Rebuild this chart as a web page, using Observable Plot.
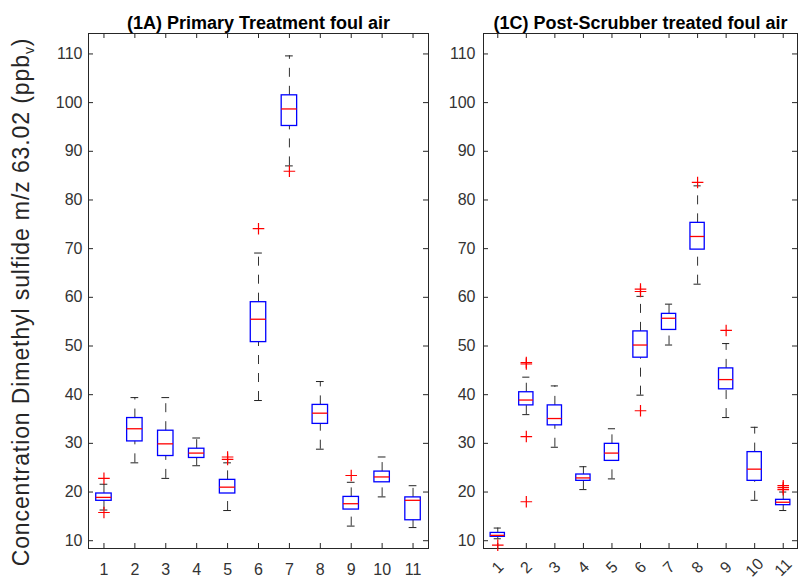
<!DOCTYPE html>
<html><head><meta charset="utf-8">
<script src="https://cdn.jsdelivr.net/npm/d3@7"></script>
<script src="https://cdn.jsdelivr.net/npm/@observablehq/plot@0.6"></script>
<style>
body{margin:0;background:#fff;}
#wrap{position:relative;width:803px;height:579px;font-family:"Liberation Sans",Arial,sans-serif;overflow:hidden;}
#left,#right{position:absolute;top:0;}
#left{left:0}
#right{left:435px}
#ylabel{position:absolute;left:23px;top:302px;transform:translate(-50%,-50%) rotate(-90deg);white-space:nowrap;font-size:23px;letter-spacing:0.9px;color:#262626;line-height:1;}
#ylabel sub{font-size:14px;}
</style></head>
<body><div id="wrap"><div id="left"></div><div id="right"></div>
<div id="ylabel">Concentration Dimethyl sulfide m/z 63.02 (ppb<sub>v</sub>)</div></div>
<script>
// Groups / tick labels
const groups = [1,2,3,4,5,6,7,8,9,10,11];
const yTicks = [10,20,30,40,50,60,70,80,90,100,110];

// (1A) Primary Treatment foul air
const primaryLow    = [16.3, 26.0, 22.8, 25.4, 16.2, 38.8, 87.0, 28.8, 13.0, 19.0, 12.7];
const primaryQ1     = [18.2, 30.4, 27.4, 27.0, 19.7, 50.8, 95.2, 34.0, 16.4, 22.0, 14.2];
const primaryMedian = [18.9, 33.0, 29.9, 28.0, 21.0, 55.5, 98.7, 36.2, 17.6, 23.1, 18.3];
const primaryQ3     = [19.7, 35.2, 32.6, 28.9, 22.5, 59.0, 101.5, 37.9, 19.0, 24.2, 18.9];
const primaryHigh   = [21.6, 39.4, 39.4, 31.1, 26.0, 69.1, 109.6, 42.7, 22.0, 27.2, 21.3];
const primaryOutliers = [[1,22.8],[1,15.8],[5,27.2],[5,26.7],[6,74.1],[7,85.9],[9,23.4]];

// (1C) Post-Scrubber treated foul air
const scrubLow    = [10.4, 35.9, 29.2, 20.5, 22.7, 39.9, 50.2, 62.7, 35.3, 18.3, 16.2];
const scrubQ1     = [10.8, 37.8, 33.7, 22.3, 26.4, 47.6, 53.3, 69.8, 41.1, 22.3, 17.3];
const scrubMedian = [11.1, 38.9, 35.1, 22.9, 28.0, 50.2, 55.7, 72.5, 43.1, 24.7, 17.9];
const scrubQ3     = [11.6, 40.5, 37.8, 23.6, 29.9, 53.0, 56.6, 75.3, 45.4, 28.2, 18.4];
const scrubHigh   = [12.6, 43.6, 41.8, 25.2, 33.0, 60.2, 58.6, 82.9, 50.5, 33.3, 20.0];
const scrubOutliers = [[1,9.1],[2,46.3],[2,46.6],[2,31.4],[2,18.0],[6,61.2],[6,61.7],[6,36.7],[8,83.6],[9,53.2],[11,21.3],[11,20.9],[11,20.5]];

const H = 579, MT = 33, MB = 31;
const AX = "#262626";
const plusSymbol = {draw(ctx, size){ const r = Math.sqrt(size/Math.PI); ctx.moveTo(-r,0); ctx.lineTo(r,0); ctx.moveTo(0,-r); ctx.lineTo(0,r); }};

function table(lo,q1,med,q3,hi){
  return groups.map((g,i)=>({g, lo:lo[i], q1:q1[i], med:med[i], q3:q3[i], hi:hi[i]}));
}

function panel(data, outliers, {width, marginLeft, marginRight, title, rotate, yPad}){
  const innerW = width - marginLeft - marginRight;
  const innerH = H - MT - MB;
  return Plot.plot({
    width, height: H, marginLeft, marginRight, marginTop: MT, marginBottom: MB,
    style: {fontFamily: "'Liberation Sans', Arial, sans-serif", fontSize: "16px", color: "#333", background: "white", overflow: "visible"},
    x: {domain: [0.5, 11.5], label: null},
    y: {domain: [8.4, 114.2], label: null},
    marks: [
      Plot.ruleX(groups, {stroke: AX, insetTop: innerH - 5}),
      Plot.ruleX(groups, {stroke: AX, insetBottom: innerH - 5}),
      Plot.ruleY(yTicks, {stroke: AX, insetRight: innerW - 5}),
      Plot.ruleY(yTicks, {stroke: AX, insetLeft: innerW - 5}),
      Plot.frame({stroke: AX}),
      rotate
        ? Plot.axisX({ticks: groups, tickSize: 0, tickPadding: 19, tickRotate: -45, textAnchor: "middle", lineAnchor: "middle", label: null, fontSize: 16})
        : Plot.axisX({ticks: groups, tickSize: 0, tickPadding: 21, textAnchor: "middle", lineAnchor: "middle", label: null, fontSize: 16}),
      Plot.axisY({ticks: yTicks, tickSize: 0, tickPadding: yPad, label: null, fontSize: 16}),
      Plot.ruleX(data, {x: "g", y1: "q3", y2: "hi", stroke: "#333", strokeDasharray: "9,9"}),
      Plot.ruleX(data, {x: "g", y1: "lo", y2: "q1", stroke: "#333", strokeDasharray: "9,9"}),
      Plot.ruleY(data, {y: "hi", x1: d => d.g - 0.125, x2: d => d.g + 0.125, stroke: "#222"}),
      Plot.ruleY(data, {y: "lo", x1: d => d.g - 0.125, x2: d => d.g + 0.125, stroke: "#222"}),
      Plot.rect(data, {x1: d => d.g - 0.25, x2: d => d.g + 0.25, y1: "q1", y2: "q3", fill: "none", stroke: "#0000ff", strokeWidth: 1.3}),
      Plot.ruleY(data, {y: "med", x1: d => d.g - 0.25, x2: d => d.g + 0.25, stroke: "#ff0000", strokeWidth: 1.3}),
      Plot.dot(outliers, {x: d => d[0], y: d => d[1], symbol: plusSymbol, r: 5.8, stroke: "#ff0000", fill: "none", strokeWidth: 1.2}),
      Plot.text([title], {frameAnchor: "top", dy: -17, fontWeight: "bold", fontSize: 18, fill: "#000"})
    ]
  });
}

document.getElementById("left").append(panel(
  table(primaryLow, primaryQ1, primaryMedian, primaryQ3, primaryHigh), primaryOutliers,
  {width: 435, marginLeft: 88, marginRight: 7, title: "(1A) Primary Treatment foul air", rotate: false, yPad: 6}));
document.getElementById("right").append(panel(
  table(scrubLow, scrubQ1, scrubMedian, scrubQ3, scrubHigh), scrubOutliers,
  {width: 368, marginLeft: 48, marginRight: 6, title: "(1C) Post-Scrubber treated foul air", rotate: true, yPad: 8}));
</script>
</body></html>
